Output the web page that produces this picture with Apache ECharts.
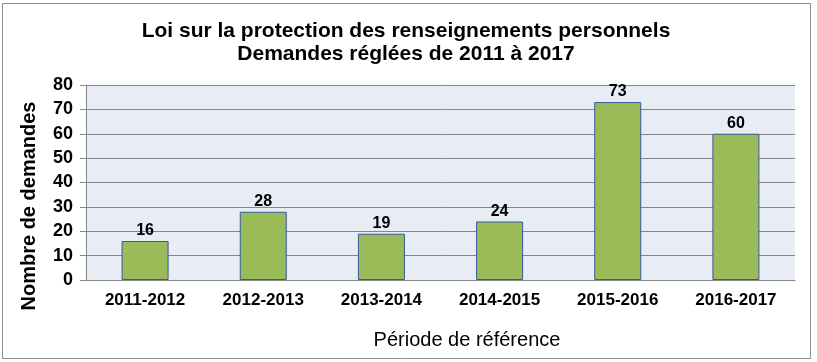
<!DOCTYPE html>
<html>
<head>
<meta charset="utf-8">
<script src="https://cdn.jsdelivr.net/npm/echarts@6/dist/echarts.min.js"></script>
<style>
html,body{margin:0;padding:0;background:#fff;}
#chart{width:817px;height:362px;}
</style>
</head>
<body>
<div id="chart"></div>
<script>
const titleLines = ['Loi sur la protection des renseignements personnels', 'Demandes réglées de 2011 à 2017'];
const categories = ['2011-2012', '2012-2013', '2013-2014', '2014-2015', '2015-2016', '2016-2017'];
const demandes = [16, 28, 19, 24, 73, 60];
const yAxisName = 'Nombre de demandes';
const xAxisName = 'Période de référence';

const FONT = '"Liberation Sans", Arial, sans-serif';
const chart = echarts.init(document.getElementById('chart'), null, {renderer: 'canvas'});
chart.setOption({
  animation: false,
  backgroundColor: '#ffffff',
  title: {
    text: titleLines.join('\n'),
    left: 401,
    textAlign: 'center',
    top: 15,
    textStyle: {fontFamily: FONT, fontSize: 21, fontWeight: 'bold', color: '#000', lineHeight: 23}
  },
  graphic: [
    {type: 'rect', shape: {x: 2.5, y: 3.5, width: 808, height: 355}, style: {fill: 'none', stroke: '#8c8c8c', lineWidth: 1}, z: 100},
    {type: 'text', x: 29, y: 206, rotation: Math.PI / 2, style: {text: yAxisName, font: 'bold 20px ' + FONT, fill: '#000', align: 'center', verticalAlign: 'middle'}},
    {type: 'text', x: 467, y: 340, style: {text: xAxisName, font: '20px ' + FONT, fill: '#000', align: 'center', verticalAlign: 'middle'}}
  ],
  grid: {left: 86, right: 22, top: 85, bottom: 82, show: true, backgroundColor: '#e8ecf5', borderWidth: 0},
  xAxis: {
    type: 'category',
    data: categories,
    axisLine: {show: true, lineStyle: {color: '#868686', width: 1}},
    axisTick: {show: false},
    axisLabel: {fontFamily: FONT, fontSize: 17, fontWeight: 'bold', color: '#000', margin: 12}
  },
  yAxis: {
    type: 'value',
    min: 0, max: 80, interval: 10,
    axisLine: {show: true, lineStyle: {color: '#868686', width: 1}},
    axisTick: {show: true, length: 6, lineStyle: {color: '#868686'}},
    splitLine: {show: true, lineStyle: {color: '#868686', width: 1}},
    axisLabel: {fontFamily: FONT, fontSize: 18, fontWeight: 'bold', color: '#000', margin: 13}
  },
  series: [{
    type: 'bar',
    data: demandes,
    barWidth: 47,
    itemStyle: {color: '#9bbb59', borderColor: '#34599c', borderWidth: 1},
    label: {show: true, position: 'top', distance: 2, fontFamily: FONT, fontSize: 16, fontWeight: 'bold', color: '#000'}
  }]
});
</script>
</body>
</html>
